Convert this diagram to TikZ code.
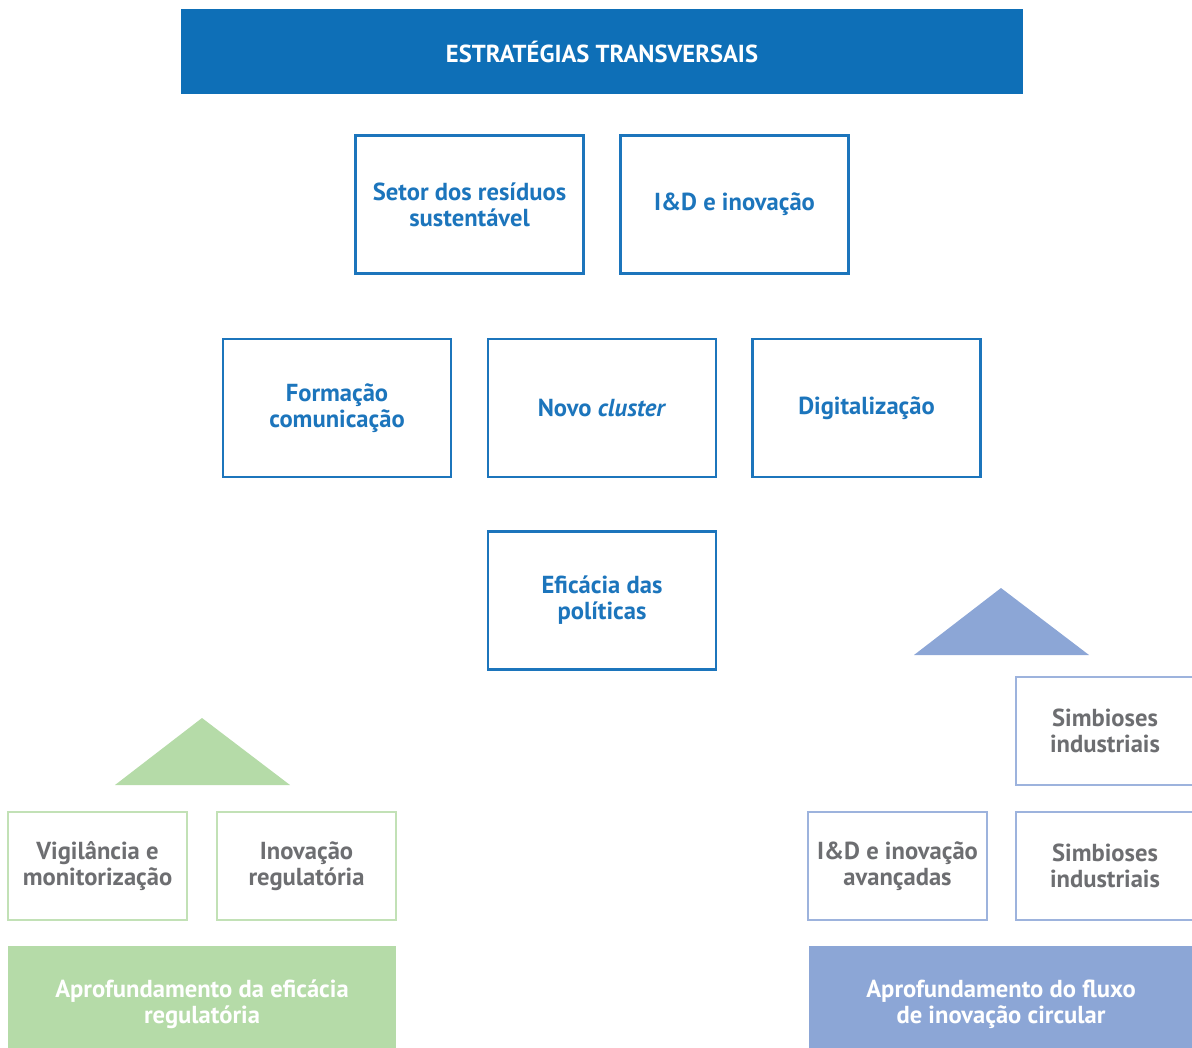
\documentclass[tikz,border=0pt]{standalone}
\usepackage{fontspec}
\setmainfont{PT Sans}
\usetikzlibrary{positioning}
\definecolor{bandblue}{HTML}{0E6FB7}
\definecolor{lineblue}{HTML}{1C75BC}
\definecolor{softgreen}{HTML}{B5DBA8}
\definecolor{edgegreen}{HTML}{C2E1B6}
\definecolor{softblue}{HTML}{8CA6D6}
\definecolor{edgeblue}{HTML}{9DB3DD}
\definecolor{textgray}{HTML}{6D6E71}
\tikzset{
  stratbox/.style={draw=lineblue, line width=1.2pt, text=lineblue, font=\bfseries\fontsize{14}{14.8}\selectfont,
    align=center, minimum width=4.56cm, minimum height=2.76cm, inner sep=0pt},
  greenbox/.style={draw=edgegreen, line width=1.2pt, text=textgray, font=\bfseries\fontsize{14}{14.8}\selectfont,
    align=center, minimum width=3.58cm, minimum height=2.16cm, inner sep=0pt},
  bluebox/.style={greenbox, draw=edgeblue},
  basebar/.style={text=white, font=\bfseries\fontsize{14}{14.8}\selectfont, align=center,
    minimum height=2.34cm, inner sep=0pt}
}
\begin{document}
\begin{tikzpicture}[x=0.02cm,y=-0.02cm]
\useasboundingbox (0,0) rectangle (1192,1047);
\clip (0,0) rectangle (1192,1047);
% header
\node[fill=bandblue, text=white, font=\bfseries\fontsize{14}{16}\selectfont, minimum width=16.84cm, minimum height=1.7cm, inner sep=0pt] (band) at (602,51.5) {ESTRATÉGIAS TRANSVERSAIS};
% transversal strategies
\node[stratbox] (setor) at (469.5,204.5) {Setor dos resíduos\\sustentável};
\node[stratbox] (ided) at (734.5,204.5) {I\&D e inovação};
\node[stratbox] (formacao) at (337,408) {Formação\\comunicação};
\node[stratbox] (cluster) at (602,408) {Novo \textit{cluster}};
\node[stratbox] (digital) at (866.5,408) {Digitalização};
\node[stratbox] (eficacia) at (602,600.5) {Eficácia das\\políticas};
% regulatory pillar
\fill[softgreen] (115,785) -- (202,718) -- (290,785) -- cycle;
\node[greenbox] (vigilancia) at (97.5,866) {Vigilância e\\monitorização};
\node[greenbox] (inovreg) at (306.5,866) {Inovação\\regulatória};
\node[basebar, fill=softgreen, minimum width=7.76cm] (regbase) at (202,1004.5) {Aprofundamento da eficácia\\regulatória};
% circular pillar
\fill[softblue] (914,655) -- (1001,588) -- (1089,655) -- cycle;
\node[bluebox, minimum width=3.56cm] (simbtop) at (1105,731) {Simbioses\\industriais};
\node[bluebox] (idavanc) at (897.5,866) {I\&D e inovação\\avançadas};
\node[bluebox, minimum width=3.56cm] (simb) at (1105,866) {Simbioses\\industriais};
\node[basebar, fill=softblue, minimum width=7.7cm] (circbase) at (1001,1004.5) {Aprofundamento do fluxo\\de inovação circular};
\end{tikzpicture}
\end{document}
